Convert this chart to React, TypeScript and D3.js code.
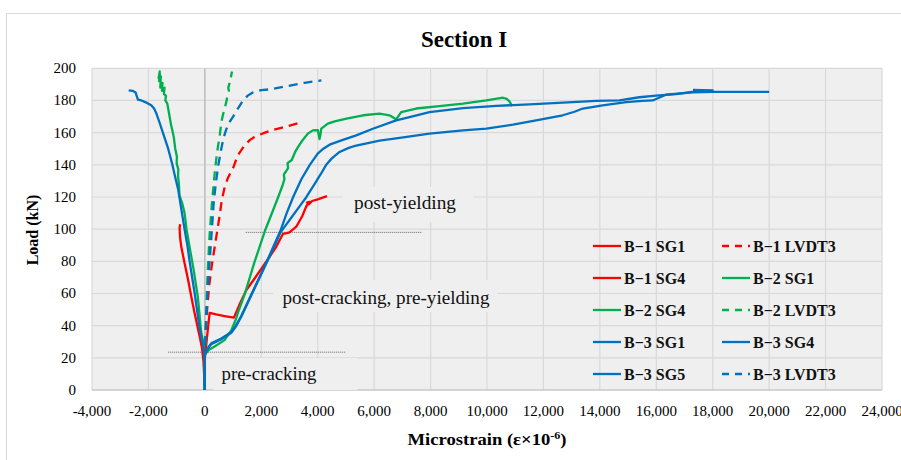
import React from "react";
import * as d3 from "d3";

type Pt = [number, number];

// Load (kN) against microstrain for each gauge / LVDT of beams B-1, B-2, B-3
const b1SG1: Pt[] = [
  [0, 0], [-20, 8], [-50, 18], [-100, 26], [-180, 33], [-280, 41], [-366, 48],
  [-480, 58], [-600, 69], [-720, 79], [-836, 89], [-880, 95], [-896, 101], [-875, 103],
];
const b1SG4: Pt[] = [
  [0, 0], [-20, 10], [0, 20], [60, 30], [120, 40], [170, 48], [400, 47], [700, 46],
  [1030, 45], [1200, 52], [1466, 62], [1750, 69], [2066, 77], [2300, 83], [2530, 89],
  [2765, 97], [2900, 97.5], [3000, 98], [3240, 101.5], [3450, 108], [3590, 114],
  [3700, 117], [3620, 116.5], [3690, 115.5], [3800, 117.5], [4000, 118.5], [4330, 120.5],
];
const b1LVDT3: Pt[] = [
  [0, 0], [0, 22], [20, 30], [40, 40], [80, 50], [160, 66], [250, 78], [340, 88],
  [430, 98], [520, 108], [600, 118], [700, 126], [820, 132], [1000, 138], [1170, 146],
  [1400, 152], [1600, 155.5], [1760, 157.3], [2050, 159.5], [2350, 161.4], [2820, 163.5],
  [3330, 166],
];
const b2SG1: Pt[] = [
  [0, 0], [0, 22], [150, 25], [344, 27], [698, 31], [935, 37], [1100, 44], [1171, 48],
  [1420, 60], [1750, 79], [2130, 99], [2400, 111], [2600, 120], [2750, 127], [2820, 131],
  [2800, 134], [2880, 136], [2950, 138], [2930, 141], [3080, 143], [3200, 148],
  [3300, 151], [3450, 155], [3650, 159.4], [3827, 161.4], [4004, 161.6], [4064, 156],
  [4090, 158], [4126, 162.5], [4358, 165.6], [4600, 167], [5020, 168.7], [5610, 170.8],
  [6190, 171.8], [6544, 170.8], [6780, 168.3], [6958, 172.8], [7490, 175], [8316, 176.5],
  [9150, 178], [9975, 180], [10567, 181.7], [10700, 181], [10795, 179.4], [10890, 176.5],
];
const b2SG4: Pt[] = [
  [0, 0], [0, 22], [-60, 30], [-130, 36], [-250, 58], [-400, 75], [-542, 89], [-650, 100],
  [-720, 110], [-800, 116], [-900, 121], [-920, 128], [-950, 133], [-940, 137],
  [-1000, 141], [-990, 145], [-1050, 150], [-1100, 157], [-1134, 160], [-1200, 165],
  [-1250, 170], [-1300, 175], [-1330, 178], [-1400, 180], [-1380, 183], [-1450, 184],
  [-1430, 188], [-1520, 186], [-1500, 191], [-1580, 188], [-1560, 195], [-1620, 192],
  [-1600, 198], [-1640, 194], [-1580, 197],
];
const b2LVDT3: Pt[] = [
  [0, 0], [0, 22], [30, 40], [60, 56], [110, 77], [170, 97], [260, 118], [350, 135],
  [420, 146], [470, 152], [520, 157], [580, 166], [640, 171], [700, 175], [760, 179],
  [800, 183], [850, 186], [830, 188], [880, 191], [870, 193], [930, 195], [960, 198],
];
const b3SG1: Pt[] = [
  [0, 0], [0, 22], [100, 26], [226, 29], [580, 32], [935, 36], [1100, 40], [1290, 46],
  [1584, 57], [1878, 68], [2200, 80], [2450, 90], [2680, 99], [2900, 110], [3130, 120],
  [3420, 131], [3720, 140], [4000, 147], [4200, 150], [4420, 152.5], [4893, 155.5],
  [5365, 158.3], [5955, 162.4], [6780, 167.6], [7254, 169.7], [7963, 172.8], [9150, 175.3],
  [10330, 176.6], [11504, 177.6], [12694, 178.6], [13866, 179.7], [14690, 180],
  [15400, 182], [15990, 183], [16700, 184], [17400, 185.6], [18000, 186.3], [17300, 186.6],
];
const b3SG4: Pt[] = [
  [0, 0], [0, 22], [-60, 27], [-200, 40], [-360, 60], [-540, 80], [-620, 90], [-720, 100],
  [-830, 112], [-950, 125], [-1073, 134], [-1150, 140], [-1300, 150], [-1450, 158],
  [-1600, 166], [-1720, 172], [-1800, 175], [-1900, 177], [-2050, 178.5], [-2250, 180],
  [-2373, 180.5], [-2420, 183], [-2455, 185], [-2560, 186], [-2700, 186.3],
];
const b3SG5: Pt[] = [
  [0, 0], [0, 22], [100, 25.5], [226, 28.5], [580, 31.5], [935, 35.5], [1100, 39.5],
  [1290, 45.5], [1584, 56.5], [1878, 67.5], [2200, 79.5], [2450, 89], [2680, 98],
  [2850, 102], [3100, 108], [3350, 114], [3600, 120], [3887, 128], [4100, 134],
  [4300, 140], [4500, 144], [4775, 148], [5100, 150.5], [5365, 152], [6190, 155],
  [6780, 156.5], [7963, 159.4], [9150, 161.4], [9975, 162.5], [10920, 165], [11740, 167.6],
  [12685, 170.8], [13100, 173], [13395, 175], [14100, 177], [14930, 179], [15500, 179.8],
  [15870, 180], [16340, 183.6], [17290, 185], [18000, 185.4], [20000, 185.4],
];
const b3LVDT3: Pt[] = [
  [0, 0], [0, 22], [40, 40], [90, 60], [170, 80], [250, 100], [320, 118], [400, 130],
  [480, 140], [560, 148], [640, 155], [720, 160], [820, 165], [1000, 170], [1170, 175],
  [1350, 180], [1520, 183], [1700, 185], [2000, 186.4], [2350, 187], [2940, 189],
  [3530, 191], [4130, 192.5],
];

// Stage boundaries (cracking and yielding loads)
const crackingLine: Pt[] = [[-1300, 23.5], [5000, 23.5]];
const yieldingLine: Pt[] = [[1450, 98], [7700, 98]];

const xTicks = d3.range(-4000, 24001, 2000);
const yTicks = d3.range(0, 201, 20);

const RED = "#ff0000";
const GREEN = "#00b050";
const BLUE = "#0070c0";

// Legend order (row by row, two columns)
const series = [
  { name: "B−1 SG1", data: b1SG1, color: RED, dashed: false },
  { name: "B−1 LVDT3", data: b1LVDT3, color: RED, dashed: true },
  { name: "B−1 SG4", data: b1SG4, color: RED, dashed: false },
  { name: "B−2 SG1", data: b2SG1, color: GREEN, dashed: false },
  { name: "B−2 SG4", data: b2SG4, color: GREEN, dashed: false },
  { name: "B−2 LVDT3", data: b2LVDT3, color: GREEN, dashed: true },
  { name: "B−3 SG1", data: b3SG1, color: BLUE, dashed: false },
  { name: "B−3 SG4", data: b3SG4, color: BLUE, dashed: false },
  { name: "B−3 SG5", data: b3SG5, color: BLUE, dashed: false },
  { name: "B−3 LVDT3", data: b3LVDT3, color: BLUE, dashed: true },
];

const FONT = "'Liberation Serif', 'Times New Roman', serif";

export default function App() {
  const W = 901;
  const H = 460;
  const plot = { left: 92, right: 882, top: 68.3, bottom: 390 };
  const x = d3.scaleLinear().domain([-4000, 24000]).range([plot.left, plot.right]);
  const y = d3.scaleLinear().domain([0, 200]).range([plot.bottom, plot.top]);
  const line = d3.line<Pt>().x((d) => x(d[0])).y((d) => y(d[1]));
  const fmt = d3
    .formatLocale({ decimal: ".", thousands: ",", grouping: [3], currency: ["", ""], minus: "-" })
    .format(",");

  const labels = [
    { text: "pre-cracking", cx: 269, base: 380, w: 95, box: [213, 358, 357, 390] },
    { text: "post-cracking, pre-yielding", cx: 386, base: 304, w: 207, box: [273, 280, 497, 312] },
    { text: "post-yielding", cx: 405, base: 209, w: 102, box: [343, 187, 473, 222] },
  ];

  const rows = [246, 278, 310, 342, 374];
  const cols = [593, 722];

  return (
    <svg
      width={W}
      height={H}
      viewBox={`0 0 ${W} ${H}`}
      style={{ position: "absolute", left: 0, top: 0, background: "#ffffff" }}
      fontFamily={FONT}
    >
      <rect x={6.5} y={13.5} width={930} height={470} fill="#ffffff" stroke="#d9d9d9" />
      <text x={464} y={47} textAnchor="middle" fontSize={23} fontWeight="bold" fill="#000">
        Section I
      </text>

      {/* plot area */}
      <rect
        x={plot.left}
        y={plot.top}
        width={plot.right - plot.left}
        height={plot.bottom - plot.top}
        fill="#efefef"
      />
      {xTicks.map((t) => (
        <line key={"gx" + t} x1={x(t)} x2={x(t)} y1={plot.top} y2={plot.bottom} stroke="#d9d9d9" strokeWidth={1.2} />
      ))}
      {yTicks.map((t) => (
        <line key={"gy" + t} x1={plot.left} x2={plot.right} y1={y(t)} y2={y(t)} stroke="#d9d9d9" strokeWidth={1.2} />
      ))}
      <line x1={x(0)} x2={x(0)} y1={plot.top} y2={plot.bottom} stroke="#bfbfbf" strokeWidth={1.5} />
      <line x1={plot.left} x2={plot.right} y1={plot.bottom} y2={plot.bottom} stroke="#bfbfbf" strokeWidth={1.2} />

      {/* tick labels */}
      {xTicks.map((t) => (
        <text key={"tx" + t} x={x(t)} y={416} textAnchor="middle" fontSize={15} fill="#000">
          {fmt(t)}
        </text>
      ))}
      {yTicks.map((t) => (
        <text key={"ty" + t} x={76} y={y(t) + 5} textAnchor="end" fontSize={15} fill="#000">
          {fmt(t)}
        </text>
      ))}

      {/* axis titles */}
      <text x={487} y={445} textAnchor="middle" fontSize={17} fontWeight="bold" fill="#000" textLength={159} lengthAdjust="spacingAndGlyphs">
        Microstrain (ε×10<tspan dy={-6} fontSize={11}>-6</tspan><tspan dy={6}>)</tspan>
      </text>
      <text
        transform={`translate(38, 230) rotate(-90)`}
        textAnchor="middle"
        fontSize={16}
        fontWeight="bold"
        fill="#000"
      >
        Load (kN)
      </text>

      {/* stage label boxes */}
      {labels.map((l) => (
        <rect
          key={"b" + l.text}
          x={l.box[0]}
          y={l.box[1]}
          width={l.box[2] - l.box[0]}
          height={l.box[3] - l.box[1]}
          fill="#efefef"
        />
      ))}

      {/* stage boundaries */}
      <path d={line(crackingLine) ?? ""} stroke="#404040" strokeWidth={0.8} strokeDasharray="1,1" fill="none" />
      <path d={line(yieldingLine) ?? ""} stroke="#404040" strokeWidth={0.8} strokeDasharray="1,1" fill="none" />

      {labels.map((l) => (
        <text
          key={"t" + l.text}
          x={l.cx}
          y={l.base}
          textAnchor="middle"
          fontSize={18.5}
          fill="#111"
          textLength={l.w}
          lengthAdjust="spacingAndGlyphs"
        >
          {l.text}
        </text>
      ))}

      {/* curves */}
      {series.map((s) => (
        <path
          key={s.name}
          d={line(s.data) ?? ""}
          fill="none"
          stroke={s.color}
          strokeWidth={2.3}
          strokeDasharray={s.dashed ? "9,6" : undefined}
          strokeLinejoin="round"
          strokeLinecap="butt"
        />
      ))}

      {/* legend */}
      {series.map((s, i) => {
        const r = rows[Math.floor(i / 2)];
        const c = cols[i % 2];
        return (
          <g key={"lg" + s.name}>
            <line
              x1={c}
              x2={c + 28}
              y1={r}
              y2={r}
              stroke={s.color}
              strokeWidth={2.3}
              strokeDasharray={s.dashed ? "7,6" : undefined}
            />
            <text x={c + 31} y={r + 6} fontSize={16} fontWeight="bold" fill="#111">
              {s.name}
            </text>
          </g>
        );
      })}
    </svg>
  );
}
